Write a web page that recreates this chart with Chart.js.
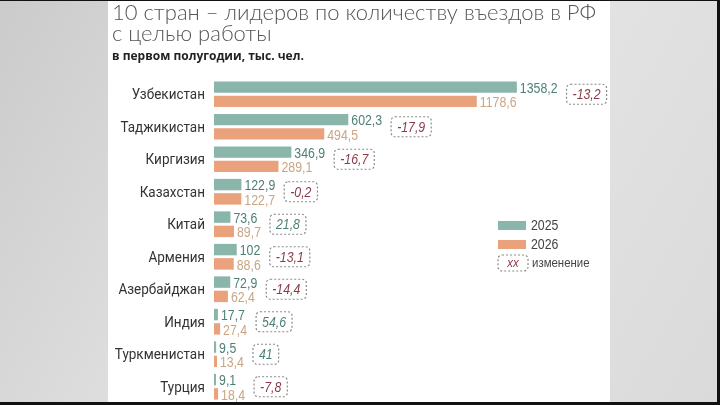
<!DOCTYPE html>
<html>
<head>
<meta charset="utf-8">
<script src="https://cdn.jsdelivr.net/npm/chart.js@4"></script>
<style>
  html, body { margin: 0; padding: 0; }
  #wrap { width: 720px; height: 405px; position: relative; }
</style>
</head>
<body>
<div id="wrap"><canvas id="chart"></canvas></div>
<script>
const countries = ['Узбекистан', 'Таджикистан', 'Киргизия', 'Казахстан', 'Китай',
                   'Армения', 'Азербайджан', 'Индия', 'Туркменистан', 'Турция'];
const values2025 = [1358.2, 602.3, 346.9, 122.9, 73.6, 102, 72.9, 17.7, 9.5, 9.1];
const values2026 = [1178.6, 494.5, 289.1, 122.7, 89.7, 88.6, 62.4, 27.4, 13.4, 18.4];
const changes = [-13.2, -17.9, -16.7, -0.2, 21.8, -13.1, -14.4, 54.6, 41, -7.8];
const seriesNames = ['2025', '2026'];

const TEAL = '#8ab5ab';
const ORANGE = '#e9a27c';
const TEAL_TEXT = '#4f7f77';
const ORANGE_TEXT = '#c9a585';
const NEG_TEXT = '#8a3a48';
const NARROW = 0.88;   // horizontal squeeze for the condensed font
const NUM_FONT = '14px "Liberation Sans", Arial, sans-serif';
const CHG_FONT = 'italic 14px "Liberation Sans", Arial, sans-serif';
const CAT_FONT = '15px Roboto, sans-serif';

function fmt(v) {
    return String(v).replace('.', ',');
}

// draws squeezed text, returns its drawn width
function narrowText(ctx, text, x, y, align, k) {
    const sx = k || NARROW;
    const w = ctx.measureText(text).width * sx;
    let left = x;
    if (align === 'center') left = x - w / 2;
    if (align === 'right') left = x - w;
    ctx.save();
    ctx.textAlign = 'left';
    ctx.translate(left, y);
    ctx.scale(sx, 1);
    ctx.fillText(text, 0, 0);
    ctx.restore();
    return w;
}

function dashedBox(ctx, x, y, w, h) {
    ctx.save();
    ctx.strokeStyle = '#8a8a8a';
    ctx.lineWidth = 1.2;
    ctx.setLineDash([2, 2]);
    ctx.beginPath();
    ctx.roundRect(x, y, w, h, 4);
    ctx.stroke();
    ctx.restore();
}

// background: grey frame, white panel, titles
const backdrop = {
    id: 'backdrop',
    beforeDraw(chart) {
        const ctx = chart.ctx;
        ctx.save();
        const g = ctx.createLinearGradient(0, 0, 720, 405);
        g.addColorStop(0, '#cbcbcb');
        g.addColorStop(0.5, '#e6e6e6');
        g.addColorStop(1, '#dadada');
        ctx.fillStyle = g;
        ctx.fillRect(0, 0, 720, 405);
        ctx.fillStyle = '#ffffff';
        ctx.fillRect(108, 0, 502, 405);
        ctx.fillStyle = '#111';
        ctx.fillRect(0, 402, 720, 3);
        ctx.fillRect(717, 0, 3, 405);
        ctx.fillRect(0, 0, 720, 1);

        ctx.fillStyle = '#555';
        ctx.textBaseline = 'alphabetic';
        ctx.font = '300 22px Lato, "Open Sans", sans-serif';
        ctx.fillText('10 стран – лидеров по количеству въездов в РФ', 112, 20);
        ctx.fillText('с целью работы', 112, 41);
        ctx.fillStyle = '#222';
        ctx.font = 'bold 12px "Open Sans", sans-serif';
        ctx.fillText('в первом полугодии, тыс. чел.', 112, 60);
        ctx.restore();
    }
};

// category labels, value labels, change boxes and legend
const annotations = {
    id: 'annotations',
    afterDatasetsDraw(chart) {
        const ctx = chart.ctx;
        const yScale = chart.scales.y;
        const m0 = chart.getDatasetMeta(0);
        const m1 = chart.getDatasetMeta(1);
        ctx.save();
        ctx.textBaseline = 'middle';
        for (let i = 0; i < countries.length; i++) {
            ctx.font = CAT_FONT;
            ctx.fillStyle = '#333';
            narrowText(ctx, countries[i], chart.chartArea.left - 9, yScale.getPixelForValue(i) + 1, 'right', 0.9);

            const b0 = m0.data[i], b1 = m1.data[i];
            ctx.font = NUM_FONT;
            ctx.fillStyle = TEAL_TEXT;
            const w0 = narrowText(ctx, fmt(values2025[i]), b0.x + 3, b0.y + 2);
            ctx.fillStyle = ORANGE_TEXT;
            const w1 = narrowText(ctx, fmt(values2026[i]), b1.x + 3, b1.y + 2);
            const end = Math.max(b0.x + 3 + w0, b1.x + 3 + w1);
            const cy = (b0.y + b1.y) / 2;
            ctx.font = CHG_FONT;
            const ct = fmt(changes[i]);
            const w = ctx.measureText(ct).width * NARROW + 12;
            dashedBox(ctx, end + 9, cy - 10, w, 20);
            ctx.fillStyle = changes[i] < 0 ? NEG_TEXT : TEAL_TEXT;
            narrowText(ctx, ct, end + 9 + w / 2, cy + 1, 'center');
        }

        // legend
        const lx = 498;
        ctx.fillStyle = TEAL;
        ctx.fillRect(lx, 221, 28, 9);
        ctx.fillStyle = ORANGE;
        ctx.fillRect(lx, 240, 28, 9);
        ctx.fillStyle = '#444';
        ctx.font = '14px "Liberation Sans", Arial, sans-serif';
        narrowText(ctx, seriesNames[0], lx + 33, 226);
        narrowText(ctx, seriesNames[1], lx + 33, 245);
        dashedBox(ctx, lx, 255, 30, 16);
        ctx.fillStyle = NEG_TEXT;
        ctx.font = CHG_FONT.replace('14px', '13px');
        narrowText(ctx, 'xx', lx + 15, 263, 'center');
        ctx.fillStyle = '#444';
        ctx.font = '13px "Liberation Sans", Arial, sans-serif';
        narrowText(ctx, 'изменение', lx + 34, 263);
        ctx.restore();
    }
};

new Chart(document.getElementById('chart'), {
    type: 'bar',
    data: {
        labels: countries,
        datasets: [
            { label: seriesNames[0], data: values2025, backgroundColor: TEAL },
            { label: seriesNames[1], data: values2026, backgroundColor: ORANGE }
        ]
    },
    options: {
        indexAxis: 'y',
        responsive: true,
        maintainAspectRatio: false,
        animation: false,
        events: [],
        categoryPercentage: 0.88,
        barPercentage: 0.8,
        layout: { padding: { left: 108, right: 110, top: 78, bottom: 2 } },
        plugins: {
            legend: { display: false },
            tooltip: { enabled: false },
            title: { display: false }
        },
        scales: {
            x: { display: false, min: 0, max: 1776 },
            y: {
                grid: { display: false },
                border: { display: false },
                afterFit(scale) { scale.width = 106; },
                ticks: { display: false }
            }
        }
    },
    plugins: [backdrop, annotations]
});
</script>
</body>
</html>
